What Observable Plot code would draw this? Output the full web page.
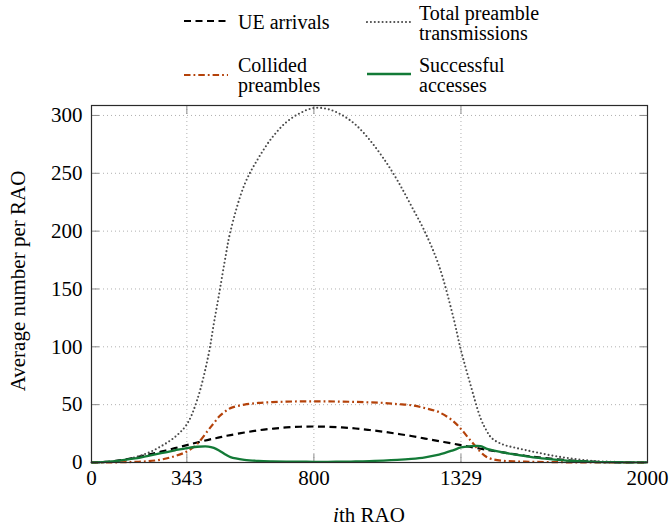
<!DOCTYPE html>
<html>
<head>
<meta charset="utf-8">
<script src="https://cdn.jsdelivr.net/npm/d3@7"></script>
<script src="https://cdn.jsdelivr.net/npm/@observablehq/plot@0.6"></script>
<style>
  html, body { margin: 0; padding: 0; background: #fff; }
  body { width: 669px; height: 527px; overflow: hidden; color: #000; font-family: 'Liberation Serif', serif; }
  #wrap { position: relative; width: 669px; height: 527px; }
  #legend { position: relative; width: 669px; height: 100px; }
  .lt { position: absolute; font-size: 20px; line-height: 20px; height: 20px; white-space: nowrap; }
  .ls { position: absolute; }
  #chart { position: absolute; left: 0; top: 100px; }
  #xlab { position: absolute; left: 369px; top: 503px; transform: translateX(-50%); font-size: 21px; white-space: nowrap; }
  #ylab { position: absolute; left: 18px; top: 281px; transform: translate(-50%, -50%) rotate(-90deg); font-size: 21px; white-space: nowrap; }
</style>
</head>
<body>
<div id="wrap">
  <div id="legend"></div>
  <div id="chart"></div>
  <div id="xlab"><i>i</i>th RAO</div>
  <div id="ylab">Average number per RAO</div>
</div>
<script>
// ---- data ----
const rao = [0, 50, 100, 150, 200, 250, 300, 343, 380, 420, 440, 460, 480, 500, 550, 600, 650, 700, 750, 800, 850, 900, 950, 1000, 1050, 1100, 1150, 1200, 1250, 1300, 1329, 1360, 1400, 1420, 1440, 1480, 1520, 1560, 1600, 1650, 1700, 1750, 1800, 1850, 1900, 1950, 2000];
const ueArrivals = [0, 0.5, 1.9, 4.0, 6.6, 9.4, 12.4, 15.0, 17.3, 19.6, 20.7, 21.7, 22.8, 23.7, 25.9, 27.8, 29.2, 30.3, 30.9, 31.1, 30.9, 30.3, 29.4, 28.1, 26.6, 24.8, 22.9, 20.7, 18.5, 16.3, 15.0, 13.6, 11.9, 11.1, 10.2, 8.7, 7.2, 5.8, 4.6, 3.3, 2.2, 1.35, 0.73, 0.32, 0.1, 0.01, 0];
const totalPreamble = [0, 0.3, 1.5, 4, 8, 14, 22, 33, 54, 92, 120, 147, 175, 200, 240, 263, 281, 294, 302, 306.5, 305.5, 300.5, 292, 279, 263, 244, 222, 199, 170, 127, 97, 70, 38, 28, 21, 15.5, 13, 10.8, 8.8, 6.3, 4.3, 2.7, 1.5, 0.8, 0.4, 0.2, 0.1];
const collided = [0, 0, 0.2, 0.5, 1, 2.5, 5.5, 9.5, 16, 28, 34, 40, 44, 47, 50, 51.5, 52.2, 52.6, 52.8, 52.8, 52.8, 52.6, 52.4, 52, 51.5, 50.5, 49.5, 47, 43.5, 36, 29, 20, 9, 5, 3, 1.5, 0.9, 0.7, 0.5, 0.4, 0.2, 0.1, 0, 0, 0, 0, 0];
const successful = [0, 0.5, 1.6, 3.3, 5.6, 8.0, 10.5, 12.5, 13.6, 13.8, 12.6, 10.2, 7.2, 4.6, 2.3, 1.4, 1.0, 0.8, 0.7, 0.6, 0.6, 0.7, 0.9, 1.2, 1.6, 2.2, 3.1, 4.5, 6.8, 10.5, 13.0, 14.0, 14.1, 12.0, 10.8, 8.7, 7.0, 5.6, 4.2, 2.9, 1.8, 1.1, 0.6, 0.35, 0.2, 0.1, 0.05];
const xTicks = [0, 343, 800, 1329, 2000];
const yTicks = [0, 50, 100, 150, 200, 250, 300];
const seriesNames = ["UE arrivals", "Total preamble transmissions", "Collided preambles", "Successful accesses"];

const FONT = "'Liberation Serif', serif";

// ---- styles ----
const styles = [
  {stroke: "#000000", strokeWidth: 2.2, strokeDasharray: "7,4.5", strokeLinecap: "butt"},
  {stroke: "#4a4a4a", strokeWidth: 2.1, strokeDasharray: "0,3.9", strokeLinecap: "round"},
  {stroke: "#b4420a", strokeWidth: 2.2, strokeDasharray: "6.5,3,1.8,3", strokeLinecap: "butt"},
  {stroke: "#137a37", strokeWidth: 2.3, strokeDasharray: null, strokeLinecap: "butt"}
];
const seriesValues = [ueArrivals, totalPreamble, collided, successful];

// ---- legend ----
const legend = document.getElementById("legend");
const legendPos = [
  {sx: 183, sy: 21, tx: 238, ty: 12, lines: ["UE arrivals"]},
  {sx: 366, sy: 22, tx: 419, ty: 3, lines: ["Total preamble", "transmissions"]},
  {sx: 183, sy: 75, tx: 238, ty: 55, lines: ["Collided", "preambles"]},
  {sx: 366, sy: 74, tx: 419, ty: 55, lines: ["Successful", "accesses"]}
];
legendPos.forEach((p, i) => {
  const s = styles[i];
  const svgNS = "http://www.w3.org/2000/svg";
  const sv = document.createElementNS(svgNS, "svg");
  sv.setAttribute("class", "ls");
  sv.setAttribute("width", 46);
  sv.setAttribute("height", 10);
  sv.style.left = p.sx + "px";
  sv.style.top = (p.sy - 5) + "px";
  const ln = document.createElementNS(svgNS, "line");
  ln.setAttribute("x1", 1); ln.setAttribute("x2", 45);
  ln.setAttribute("y1", 5); ln.setAttribute("y2", 5);
  ln.setAttribute("stroke", s.stroke);
  ln.setAttribute("stroke-width", s.strokeWidth);
  ln.setAttribute("stroke-linecap", s.strokeLinecap);
  if (s.strokeDasharray) ln.setAttribute("stroke-dasharray", s.strokeDasharray);
  sv.appendChild(ln);
  legend.appendChild(sv);
  p.lines.forEach((line, j) => {
    const t = document.createElement("div");
    t.className = "lt";
    t.style.left = p.tx + "px";
    t.style.top = (p.ty + j * 20) + "px";
    t.textContent = line;
    legend.appendChild(t);
  });
});

// ---- chart ----
const gridStyle = {stroke: "#b0b0b0", strokeOpacity: 1, strokeDasharray: "1,3", strokeWidth: 1};
const tickStyle = {stroke: "#8a8a8a", strokeWidth: 1};
const chart = Plot.plot({
  width: 669,
  height: 427,
  marginTop: 5,
  marginBottom: 65,
  marginLeft: 91,
  marginRight: 22,
  style: {fontFamily: FONT, fontSize: "21px", color: "#000", background: "#fff", overflow: "visible"},
  x: {domain: [0, 2000], ticks: xTicks},
  y: {domain: [0, 308.6], ticks: yTicks},
  marks: [
    Plot.gridX(xTicks, gridStyle),
    Plot.gridY(yTicks, gridStyle),
    Plot.axisX(xTicks, {anchor: "bottom", tickSize: -8, tickFormat: () => "", label: null, ...tickStyle}),
    Plot.axisX(xTicks, {anchor: "top", tickSize: -8, tickFormat: () => "", label: null, ...tickStyle}),
    Plot.axisY(yTicks, {anchor: "left", tickSize: -8, tickFormat: () => "", label: null, ...tickStyle}),
    Plot.axisY(yTicks, {anchor: "right", tickSize: -8, tickFormat: () => "", label: null, ...tickStyle}),
    ...seriesValues.map((vals, i) => Plot.line(rao, {x: rao, y: vals, curve: "catmull-rom", ...styles[i], fill: "none"})),
    Plot.frame({stroke: "#2a2a2a", strokeWidth: 1.2}),
    Plot.axisX(xTicks, {anchor: "bottom", tickSize: 0, tickPadding: 8, label: null, fontSize: 21, tickFormat: d => String(d)}),
    Plot.axisY(yTicks, {anchor: "left", tickSize: 0, tickPadding: 9, label: null, fontSize: 21, tickFormat: d => String(d)})
  ]
});
document.getElementById("chart").appendChild(chart);
</script>
</body>
</html>
